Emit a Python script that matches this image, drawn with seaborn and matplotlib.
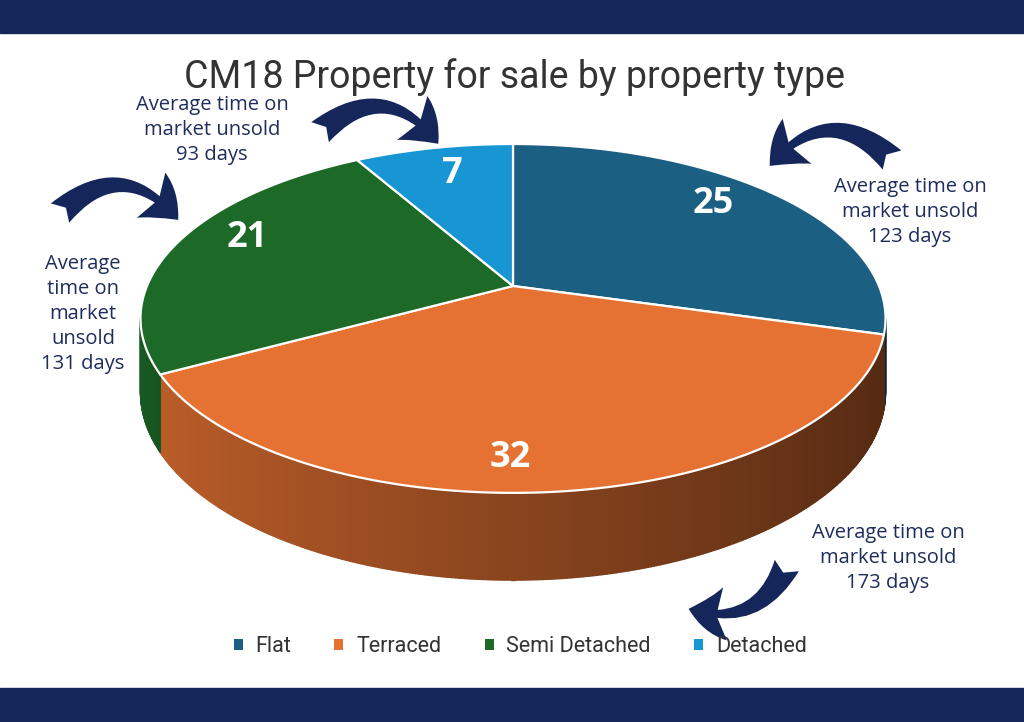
import numpy as np
import matplotlib
matplotlib.use("Agg")
import matplotlib.pyplot as plt
from matplotlib.patches import Polygon, Rectangle, FancyArrowPatch, Patch
from matplotlib.colors import to_rgb
import seaborn as sns

# data
types = ["Flat", "Terraced", "Semi Detached", "Detached"]
counts = [25, 32, 21, 7]
avg_days = [123, 173, 131, 93]
palette = ["#1b5f82", "#e57232", "#1d6a28", "#1896d4"]

sns.set_theme(style="white")
sns.set_palette(palette)
plt.rcParams["font.family"] = ["Roboto", "DejaVu Sans"]

navy = "#15265a"
text_navy = "#1f2d5c"

fig = plt.figure(figsize=(10.24, 7.22), dpi=100)
ax = fig.add_axes([0, 0, 1, 1])
ax.set_xlim(0, 1024)
ax.set_ylim(722, 0)
ax.axis("off")

# frame bars
ax.add_patch(Rectangle((0, 0), 1024, 33, color=navy, zorder=1))
ax.add_patch(Rectangle((0, 688), 1024, 34, color=navy, zorder=1))

# 3d pie geometry (perspective projection of a tilted disc)
cx, cy = 513, 286
a, b, k, depth = 366, 168.4, 0.186, 71


def proj(theta, r=1.0):
    s = 1.0 / (1.0 + k * r * np.cos(theta))
    return cx + a * r * np.sin(theta) * s, cy - b * r * np.cos(theta) * s, s


fracs = np.array(counts) / sum(counts)
edges = np.concatenate([[0], np.cumsum(fracs)]) * 2 * np.pi

# side wall, only the part facing the viewer
t_lo = np.pi - np.arccos(k)
t_hi = np.pi + np.arccos(k)
ts = np.linspace(t_lo, t_hi, 400)
for t0, t1 in zip(ts[:-1], ts[1:]):
    tm = 0.5 * (t0 + t1)
    idx = np.searchsorted(edges, tm) - 1
    shade = 0.6 - 0.24 * np.sin(tm)
    col = np.clip(np.array(to_rgb(palette[idx])) * shade, 0, 1)
    x0, y0, s0 = proj(t0)
    x1, y1, s1 = proj(t1)
    poly = [(x0, y0), (x1, y1), (x1, y1 + depth * s1), (x0, y0 + depth * s0)]
    ax.add_patch(Polygon(poly, closed=True, facecolor=col, edgecolor=col, lw=1.0, zorder=2))

# top face wedges
label_nudge = [(-22, -5), (-42, 8), (15, -11), (7, 6)]
for i, (e0, e1) in enumerate(zip(edges[:-1], edges[1:])):
    tt = np.linspace(e0, e1, 200)
    xs, ys, _ = proj(tt)
    pts = [(cx, cy)] + list(zip(xs, ys))
    ax.add_patch(Polygon(pts, closed=True, facecolor=palette[i], edgecolor="white",
                         lw=1.6, joinstyle="round", zorder=3))
    xm, ym, _ = proj(0.5 * (e0 + e1), 0.83)
    dx, dy = label_nudge[i]
    ax.text(xm + dx, ym + dy, str(counts[i]), color="white", fontsize=26, fontweight="bold",
            family=["Open Sans", "DejaVu Sans"], ha="center", va="center", zorder=4)

# title
ax.text(514, 77, "CM18 Property for sale by property type", fontsize=27, color="#333333",
        ha="center", va="center", zorder=5)

# annotations
ann_font = ["Open Sans", "DejaVu Sans"]
notes = {
    "Flat": ("Average time on\nmarket unsold\n{} days", 910, 212),
    "Terraced": ("Average time on\nmarket unsold\n{} days", 888, 558),
    "Semi Detached": ("Average\ntime on\nmarket\nunsold\n{} days", 83, 314),
    "Detached": ("Average time on\nmarket unsold\n{} days", 212, 130),
}
for name, days in zip(types, avg_days):
    txt, tx, ty = notes[name]
    ax.text(tx, ty, txt.format(days), fontsize=14.5, color=text_navy, family=ann_font,
            ha="center", va="center", linespacing=1.33, zorder=5)

arrows = [
    ((318, 134), (440, 146), "arc3,rad=-0.55"),
    ((58, 215), (180, 222), "arc3,rad=-0.55"),
    ((894, 162), (768, 168), "arc3,rad=0.55"),
    ((788, 563), (686, 608), "arc3,rad=-0.45"),
]
for p0, p1, cs in arrows:
    ax.add_patch(FancyArrowPatch(p0, p1, connectionstyle=cs,
                                 arrowstyle="Fancy,head_length=1.1,head_width=1.6,tail_width=0.8",
                                 mutation_scale=24, color=navy, lw=0, zorder=5))

# legend
handles = [Patch(facecolor=c, edgecolor="none") for c in palette]
fig.legend(handles, types, loc="center", bbox_to_anchor=(0.508, 1 - 647 / 722), ncol=4,
           frameon=False, fontsize=15.5, handlelength=0.42, handleheight=0.42,
           handletextpad=0.6, columnspacing=2.0, labelcolor="#333333")

fig.savefig("out.png", dpi=100)
